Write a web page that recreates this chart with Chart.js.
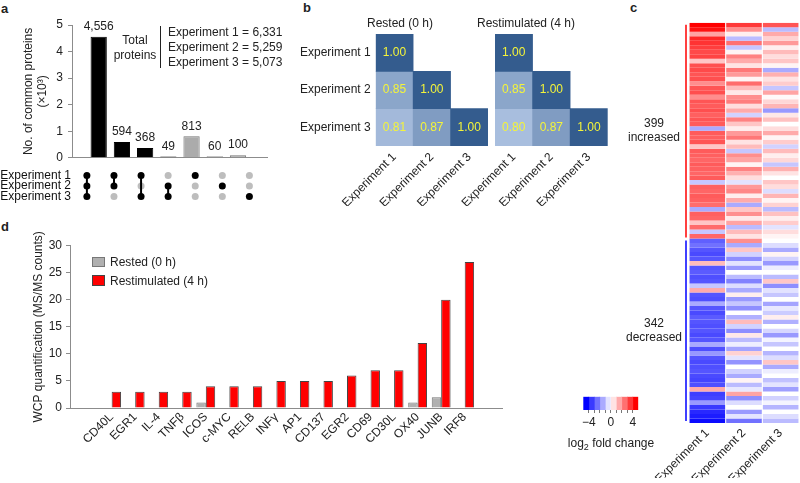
<!DOCTYPE html>
<html>
<head>
<meta charset="utf-8">
<title>Proteome overlap, correlation and fold change</title>
<script src="https://cdn.jsdelivr.net/npm/chart.js"></script>
<style>
  body { margin: 0; background: #fff; font-family: "Liberation Sans", Arial, sans-serif; color: #222; }
  #fig { position: relative; width: 800px; height: 483px; overflow: hidden; }
  canvas { position: absolute; }
  .t { position: absolute; font-size: 12px; line-height: 14px; white-space: nowrap; }
  .c { transform: translate(-50%, -50%); }
  .panel { position: absolute; font-size: 13px; font-weight: bold; }
  .sw { position: absolute; width: 13px; height: 10px; box-sizing: border-box; }
</style>
</head>
<body>
<div id="fig">
  <div class="panel" style="left:1px;top:1px">a</div>
  <div class="panel" style="left:303px;top:0px">b</div>
  <div class="panel" style="left:630px;top:0px">c</div>
  <div class="panel" style="left:1px;top:219px">d</div>

  <canvas id="overlapBars" width="280" height="170" style="left:0;top:0"></canvas>
  <canvas id="overlapDots" width="280" height="48" style="left:0;top:162px"></canvas>
  <div class="t c" style="left:135px;top:40px">Total</div>
  <div class="t c" style="left:135px;top:55px">proteins</div>
  <div style="position:absolute;left:160px;top:26px;height:42px;border-left:1px solid #222"></div>
  <div class="t" id="tot1" style="left:168px;top:25px"></div>
  <div class="t" id="tot2" style="left:168px;top:40px"></div>
  <div class="t" id="tot3" style="left:168px;top:55px"></div>

  <canvas id="corrRestedChart" width="205" height="215" style="left:290px;top:0"></canvas>
  <canvas id="corrRestimChart" width="170" height="215" style="left:450px;top:0"></canvas>
  <div class="t c" style="left:400px;top:23px">Rested (0 h)</div>
  <div class="t c" style="left:526px;top:23px">Restimulated (4 h)</div>

  <canvas id="foldHeat" width="200" height="483" style="left:600px;top:0"></canvas>
  <canvas id="foldScale" width="100" height="50" style="left:560px;top:385px"></canvas>
  <div class="t c" style="left:611px;top:443px">log<sub style="font-size:9px;line-height:0">2</sub> fold change</div>

  <canvas id="wcpBars" width="520" height="268" style="left:0;top:215px"></canvas>
  <div class="sw" style="left:92px;top:257px;background:#b0b0b0;border:1px solid #777"></div>
  <div class="t" style="left:110px;top:255px">Rested (0 h)</div>
  <div class="sw" style="left:92px;top:275px;height:11px;background:#ff0000;border:1px solid #444"></div>
  <div class="t" style="left:110px;top:274px">Restimulated (4 h)</div>
</div>

<script>
  // ---- data ----
  const expNames = ['Experiment 1', 'Experiment 2', 'Experiment 3'];

  // a: overlap of identified proteins
  const overlapCounts = [4556, 594, 368, 49, 813, 60, 100];
  const overlapSets = [[1,1,1], [1,1,0], [1,0,1], [0,1,1], [1,0,0], [0,1,0], [0,0,1]];
  const totalProteins = [6331, 5259, 5073];

  // b: correlation (lower triangle)
  const corrRested = [[1.00], [0.85, 1.00], [0.81, 0.87, 1.00]];
  const corrRestim = [[1.00], [0.85, 1.00], [0.80, 0.87, 1.00]];

  // c: log2 fold change bands (top = increased, bottom = decreased)
  const nIncreased = 399, nDecreased = 342;
  const upExp1 = [4.6,4.2,1.6,3.8,3.6,3.4,3.2,3.3, 1.0,3.1,3.2,3.0,3.1,2.0,3.0,3.1,
                  2.0,3.0,2.9,3.1,2.8,3.0,2.9,-1.5, 2.9,2.8,3.0,1.0,2.9,2.8,2.7,2.9,
                  2.8,2.7,2.9,-1.0,2.8,2.7,2.9,2.8, 2.6,-1.5,2.8,2.7,1.0,2.6,-1.0,2.7];
  const upExp2 = [3.5,2.0,0.3,-1.2,2.5,-1.0,0.2,2.2, 1.5,0.5,2.4,1.8,0.2,2.6,1.2,0.4,
                  2.0,2.3,0.6,1.5,-0.8,2.2,1.0,0.3, 1.8,2.4,0.5,1.2,-1.0,2.0,1.6,0.2,
                  2.2,1.4,0.6,-0.5,1.8,2.1,0.3,1.5, -1.5,1.0,2.0,0.4,1.6,-1.2,1.2,0.5];
  const upExp3 = [3.0,-1.2,1.5,0.8,1.8,0.3,1.2,0.6, 1.0,0.2,-1.5,1.4,0.5,0.9,-1.0,1.6,
                  0.1,0.7,1.3,-1.8,0.4,1.1,0.0,0.6, 1.5,0.2,0.9,-0.8,1.2,0.3,0.7,-1.0,
                  1.4,0.5,0.0,1.0,0.6,-0.6,1.3,0.2, 0.8,-1.2,1.1,0.3,0.9,-0.5,0.6,0.2];
  const downExp1 = [-2.8,-2.5,-3.0,-3.2,-3.0,1.2,-3.0,-2.9, -3.1,-3.0,-1.0,1.5,-3.0,-3.1,-1.5,-3.0,
                    -3.2,-2.9,-3.0,-3.1,-3.0,-3.2,-3.0,-1.5, -3.1,-1.8,-3.0,-3.2,-3.1,-3.0,-3.2,-3.3,
                    -3.1,1.5,-3.4,-3.3,-1.8,-3.5,-3.8,-4.0, -4.3];
  const downExp2 = [2.0,-1.5,1.0,-0.8,-2.0,-0.5,-1.8,0.0, -1.2,-2.2,-0.6,-1.5,0.3,-1.8,-1.0,-2.0,
                    0.0,-1.4,1.2,-0.8,-2.0,0.4,-1.2,-0.3, -1.6,0.8,-0.5,-1.9,0.0,-0.8,-1.5,0.2,
                    -1.2,-0.4,1.6,-2.0,-0.6,0.0,-1.8,-0.5, -2.5];
  const downExp3 = [0.0,-0.6,-1.5,0.2,-0.8,-1.8,-0.3,0.0, -1.2,1.0,-2.0,-0.5,-1.0,0.0,-1.6,-0.4,
                    -0.9,0.3,-1.4,0.0,-0.7,-1.8,-0.2,-1.0, 0.0,-1.3,-0.6,1.0,-1.5,-0.3,0.0,-1.1,
                    -0.5,-1.7,0.0,-0.8,-0.2,-1.3,0.0,-0.6, -1.2];
  const scaleSteps = [-5, -4, -3, -2, -1, 0, 1, 2, 3, 4];

  // d: WCP quantification
  const genes = ['CD40L','EGR1','IL-4','TNFβ','ICOS','c-MYC','RELB','INFγ','AP1','CD137','EGR2','CD69','CD30L','OX40','JUNB','IRF8'];
  const restedCounts = [null,null,null,null,1,null,null,null,null,null,null,null,null,1,2,null];
  const restimCounts = [3,3,3,3,4,4,4,5,5,5,6,7,7,12,20,27];

  // ---- common setup ----
  Chart.defaults.font.family = '"Liberation Sans", Arial, Helvetica, sans-serif';
  Chart.defaults.font.size = 12;
  Chart.defaults.color = '#222';
  Chart.defaults.animation = false;
  Chart.defaults.responsive = false;
  Chart.defaults.plugins.legend.display = false;
  Chart.defaults.plugins.tooltip.enabled = false;

  const AXIS = '#8c8c8c';
  const FONT = '12px "Liberation Sans", Arial, sans-serif';
  const fixWidth = w => s => { s.width = w; };
  const fixHeight = h => s => { s.height = h; };
  const indexTicks = n => s => { s.ticks = Array.from({length: n}, (_, i) => ({value: i})); };
  const shared = s => s.reduce((a, b) => a + b, 0) > 1;

  document.getElementById('tot1').textContent = 'Experiment 1 = ' + totalProteins[0].toLocaleString('en-US');
  document.getElementById('tot2').textContent = 'Experiment 2 = ' + totalProteins[1].toLocaleString('en-US');
  document.getElementById('tot3').textContent = 'Experiment 3 = ' + totalProteins[2].toLocaleString('en-US');

  // ---- a: bars ----
  const overlapLabels = {
    id: 'overlapLabels',
    afterDatasetsDraw(chart) {
      const ctx = chart.ctx;
      ctx.save();
      ctx.font = FONT; ctx.fillStyle = '#222'; ctx.textAlign = 'center'; ctx.textBaseline = 'bottom';
      chart.getDatasetMeta(0).data.forEach((el, i) => {
        ctx.fillText(overlapCounts[i].toLocaleString('en-US'), el.x, el.y - 4);
      });
      ctx.restore();
    }
  };

  new Chart(document.getElementById('overlapBars'), {
    type: 'bar',
    data: {
      datasets: [{
        data: overlapCounts.map((v, i) => ({x: i, y: v / 1000})),
        backgroundColor: overlapSets.map(s => shared(s) ? '#000' : '#ababab'),
        borderColor: overlapSets.map(s => shared(s) ? '#000' : '#777'),
        borderWidth: 1,
        barPercentage: 0.7,
        categoryPercentage: 1
      }]
    },
    options: {
      layout: {padding: {left: 0, top: 25, right: 13, bottom: 8}},
      scales: {
        x: {
          type: 'linear', min: -0.55, max: 6.65,
          afterBuildTicks: indexTicks(overlapCounts.length),
          ticks: {display: false},
          grid: {display: false, drawTicks: false},
          border: {color: AXIS},
          afterFit: fixHeight(0)
        },
        y: {
          min: 0, max: 5,
          ticks: {stepSize: 1, padding: 5},
          grid: {drawOnChartArea: false, tickLength: 4, color: AXIS},
          border: {color: AXIS},
          title: {display: true, text: ['No. of common proteins', '(×10³)'], padding: {top: 21, bottom: 0}},
          afterFit: fixWidth(72)
        }
      }
    },
    plugins: [overlapLabels]
  });

  // ---- a: membership dots ----
  const dotSets = [{
    data: overlapSets.flatMap((s, i) => s.map((m, r) => m ? null : {x: i, y: expNames[r]})).filter(Boolean),
    backgroundColor: '#bdbdbd', pointRadius: 3.5, pointBorderWidth: 0, showLine: false, order: 1
  }];
  overlapSets.forEach((s, i) => {
    dotSets.push({
      data: s.map((m, r) => m ? {x: i, y: expNames[r]} : null).filter(Boolean),
      showLine: true, borderColor: '#000', borderWidth: 2,
      backgroundColor: '#000', pointRadius: 3.5, pointBorderWidth: 0, order: 0
    });
  });

  new Chart(document.getElementById('overlapDots'), {
    type: 'scatter',
    data: {datasets: dotSets},
    options: {
      layout: {autoPadding: false, padding: {left: 0, top: 0, right: 13, bottom: 0}},
      scales: {
        x: {type: 'linear', min: -0.55, max: 6.65, display: false},
        y: {
          type: 'category', labels: expNames, offset: true,
          ticks: {autoSkip: false, padding: 1, color: '#111'},
          grid: {display: false, drawTicks: false},
          border: {display: false},
          afterFit: fixWidth(72)
        }
      }
    }
  });

  // ---- b: correlation matrices ----
  function corrColor(v) {
    const t = Math.max(0, Math.min(1, (v - 0.78) / 0.22));
    const lo = [180, 200, 230], hi = [52, 92, 142];
    const c = lo.map((l, k) => Math.round(l + (hi[k] - l) * t));
    return `rgb(${c[0]},${c[1]},${c[2]})`;
  }

  const cellText = {
    id: 'cellText',
    afterDatasetsDraw(chart) {
      const ctx = chart.ctx;
      ctx.save();
      ctx.font = FONT; ctx.fillStyle = '#f4f43a'; ctx.textAlign = 'center'; ctx.textBaseline = 'middle';
      chart.data.datasets.forEach((ds, d) => {
        chart.getDatasetMeta(d).data.forEach((el, c) => {
          if (ds.cellValues[c] == null) return;
          ctx.fillText(ds.cellValues[c].toFixed(2), el.x, (el.y + el.base) / 2);
        });
      });
      ctx.restore();
    }
  };

  function corrChart(id, matrix, showRows, padLeft, padRight) {
    return new Chart(document.getElementById(id), {
      type: 'bar',
      data: {
        labels: expNames,
        datasets: matrix.map((row, r) => ({
          data: expNames.map((_, c) => c <= r ? [r, r + 1] : null),
          cellValues: expNames.map((_, c) => c <= r ? row[c] : null),
          backgroundColor: expNames.map((_, c) => c <= r ? corrColor(row[c]) : 'transparent'),
          borderWidth: 0,
          grouped: false,
          barPercentage: 1,
          categoryPercentage: 1
        }))
      },
      options: {
        layout: {padding: {left: padLeft, top: 34, right: padRight, bottom: 9}},
        scales: {
          x: {
            ticks: {minRotation: 45, maxRotation: 45, autoSkip: false, padding: 4},
            grid: {display: false, drawTicks: false},
            border: {display: false},
            afterFit: fixHeight(60)
          },
          y: {
            display: showRows,
            min: 0, max: 3, reverse: true,
            afterBuildTicks: s => { s.ticks = [0.5, 1.5, 2.5].map(v => ({value: v})); },
            ticks: {callback: (v, i) => expNames[i], padding: 5},
            grid: {display: false, drawTicks: false},
            border: {display: false},
            afterFit: showRows ? fixWidth(85.7) : fixWidth(0)
          }
        }
      },
      plugins: [cellText]
    });
  }
  corrChart('corrRestedChart', corrRested, true, 0, 7);
  corrChart('corrRestimChart', corrRestim, false, 45, 12.3);

  // ---- c: fold change heatmap ----
  function foldColor(v) {
    const t = Math.min(Math.abs(v) / 4.5, 1);
    const f = Math.round(255 * (1 - t));
    return v >= 0 ? `rgb(255,${f},${f})` : `rgb(${f},${f},255)`;
  }
  const heatCols = [upExp1.concat(downExp1), upExp2.concat(downExp2), upExp3.concat(downExp3)];
  const nRows = heatCols[0].length;
  const nUpRows = upExp1.length;

  const groupMarks = {
    id: 'groupMarks',
    afterDraw(chart) {
      const {ctx, chartArea, scales: {y}} = chart;
      const x = chartArea.left - 3;
      const y0 = y.getPixelForValue(0), y1 = y.getPixelForValue(nUpRows), y2 = y.getPixelForValue(nRows);
      ctx.save();
      ctx.lineWidth = 1.5;
      ctx.strokeStyle = '#ff0000';
      ctx.beginPath(); ctx.moveTo(x, y0 + 2); ctx.lineTo(x, y1 - 1); ctx.stroke();
      ctx.strokeStyle = '#0000ff';
      ctx.beginPath(); ctx.moveTo(x, y1 + 2); ctx.lineTo(x, y2 - 2); ctx.stroke();
      ctx.font = FONT; ctx.fillStyle = '#222'; ctx.textAlign = 'center'; ctx.textBaseline = 'middle';
      const cx = chartArea.left - 35;
      ctx.fillText(String(nIncreased), cx, (y0 + y1) / 2 - 7);
      ctx.fillText('increased', cx, (y0 + y1) / 2 + 7);
      ctx.fillText(String(nDecreased), cx, (y1 + y2) / 2 - 7);
      ctx.fillText('decreased', cx, (y1 + y2) / 2 + 7);
      ctx.restore();
    }
  };

  new Chart(document.getElementById('foldHeat'), {
    type: 'bar',
    data: {
      labels: expNames,
      datasets: heatCols[0].map((_, r) => ({
        data: expNames.map(() => 1),
        backgroundColor: heatCols.map(col => foldColor(col[r])),
        borderWidth: 0,
        stack: 'rows',
        barPercentage: 0.97,
        categoryPercentage: 1
      }))
    },
    options: {
      layout: {padding: {left: 89, top: 22.7, right: 1, bottom: 5}},
      scales: {
        x: {
          stacked: true,
          ticks: {minRotation: 45, maxRotation: 45, autoSkip: false, padding: 3},
          grid: {display: false, drawTicks: false},
          border: {display: false},
          afterFit: fixHeight(55)
        },
        y: {stacked: true, display: false, min: 0, max: nRows, reverse: true}
      }
    },
    plugins: [groupMarks]
  });

  // ---- c: colour scale ----
  new Chart(document.getElementById('foldScale'), {
    type: 'bar',
    data: {
      labels: [''],
      datasets: scaleSteps.map(v => ({
        data: [[v, v + 1]],
        backgroundColor: foldColor(v + 0.5),
        borderWidth: 0,
        grouped: false,
        barPercentage: 1,
        categoryPercentage: 1
      }))
    },
    options: {
      indexAxis: 'y',
      layout: {padding: {left: 23.3, top: 11.7, right: 21.7, bottom: 0}},
      scales: {
        x: {
          min: -5, max: 5,
          afterBuildTicks: s => { s.ticks = scaleSteps.slice(1).map(v => ({value: v})); },
          ticks: {autoSkip: false, padding: 2, callback: v => v % 4 === 0 ? (v < 0 ? '\u2212' + Math.abs(v) : String(v)) : ''},
          grid: {drawOnChartArea: false, tickLength: 3, color: '#777'},
          border: {display: false},
          afterFit: fixHeight(25)
        },
        y: {display: false}
      }
    }
  });

  // ---- d: WCP quantification ----
  new Chart(document.getElementById('wcpBars'), {
    type: 'bar',
    data: {
      datasets: [
        {
          label: 'Rested (0 h)',
          data: restedCounts.map((v, i) => ({x: i, y: v})),
          backgroundColor: '#b0b0b0', borderColor: '#777', borderWidth: 1,
          categoryPercentage: 0.8, barPercentage: 1
        },
        {
          label: 'Restimulated (4 h)',
          data: restimCounts.map((v, i) => ({x: i, y: v})),
          backgroundColor: '#ff0000', borderColor: '#444', borderWidth: 1,
          categoryPercentage: 0.8, barPercentage: 1
        }
      ]
    },
    options: {
      layout: {padding: {left: 0, top: 30.7, right: 17.3, bottom: 15}},
      scales: {
        x: {
          type: 'linear', min: -1.195, max: 16.04,
          afterBuildTicks: indexTicks(genes.length),
          ticks: {callback: (v, i) => genes[i], minRotation: 45, maxRotation: 45, autoSkip: false, padding: 2},
          grid: {display: false, drawTicks: false},
          border: {color: AXIS},
          afterFit: fixHeight(60)
        },
        y: {
          min: 0, max: 30,
          ticks: {stepSize: 5, padding: 4},
          grid: {drawOnChartArea: false, tickLength: 4, color: AXIS},
          border: {color: AXIS},
          title: {display: true, text: 'WCP quantification (MS/MS counts)', padding: {top: 31, bottom: 0}},
          afterFit: fixWidth(70)
        }
      }
    }
  });
</script>
</body>
</html>
